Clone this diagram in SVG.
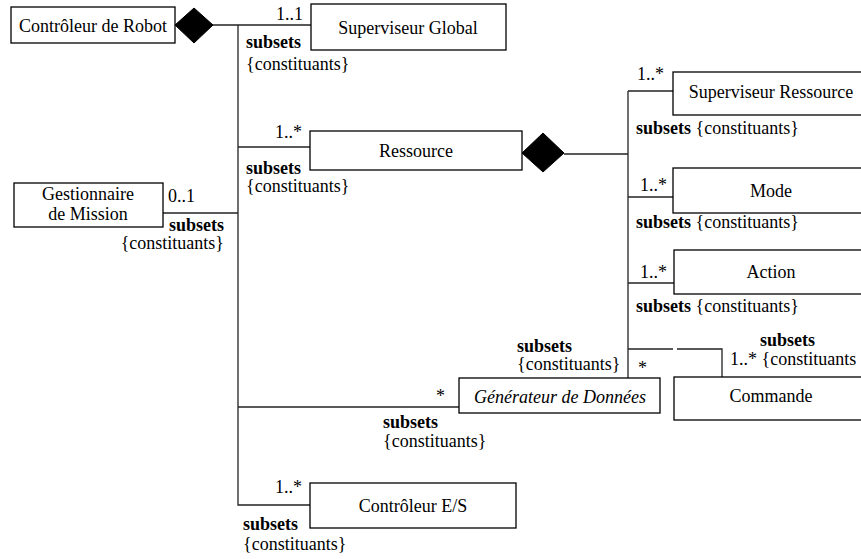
<svg xmlns="http://www.w3.org/2000/svg" width="861" height="559" viewBox="0 0 861 559">
  <style>
    text { font-family: "Liberation Serif", "Times New Roman", serif; font-size: 18px; fill: #000; }
    .b { font-weight: bold; }
    .c { text-anchor: middle; }
    .r { text-anchor: end; }
    .i { font-style: italic; }
    .box { fill: #fff; stroke: #000; stroke-width: 1.3; }
    .ln { fill: none; stroke: #222; stroke-width: 1.3; }
    .dia { fill: #000; stroke: #000; stroke-width: 1; }
  </style>
  <rect width="861" height="559" fill="#fff"/>

  <!-- connectors -->
  <g id="connectors">
    <!-- Contrôleur de Robot composition -->
    <polygon class="dia" points="175,25 194,8 213,25 194,43"/>
    <polyline class="ln" points="213,25 311,25"/>
    <polyline class="ln" points="238,25 238,505 310,505"/>
    <polyline class="ln" points="238,147 310,147"/>
    <polyline class="ln" points="163,213 238,213"/>
    <polyline class="ln" points="238,407 459,407"/>
    <!-- Ressource composition -->
    <polygon class="dia" points="522,153 543,133 564,153 543,172"/>
    <polyline class="ln" points="564,154 628,154"/>
    <polyline class="ln" points="628,91 628,378"/>
    <polyline class="ln" points="628,91 673,91"/>
    <polyline class="ln" points="628,197 673,197"/>
    <polyline class="ln" points="628,283 674,283"/>
    <polyline class="ln" points="628,349 673,349"/>
    <polyline class="ln" points="677,349 722,349 722,377"/>
  </g>

  <!-- connector labels -->
  <g id="labels">
    <text class="r" x="303" y="20">1..1</text>
    <text class="b" x="246" y="48">subsets</text>
    <text x="246" y="70">{constituants}</text>

    <text class="r" x="302" y="138">1..*</text>
    <text class="b" x="246" y="174">subsets</text>
    <text x="246" y="192">{constituants}</text>

    <text x="168" y="202">0..1</text>
    <text class="b r" x="224" y="231">subsets</text>
    <text class="r" x="224" y="249">{constituants}</text>

    <text x="637" y="80">1..*</text>
    <text x="636" y="134"><tspan class="b">subsets</tspan> {constituants}</text>

    <text x="640" y="191">1..*</text>
    <text x="636" y="228"><tspan class="b">subsets</tspan> {constituants}</text>

    <text x="640" y="278">1..*</text>
    <text x="636" y="312"><tspan class="b">subsets</tspan> {constituants}</text>

    <text class="b" x="517" y="352">subsets</text>
    <text x="517" y="370">{constituants}</text>
    <text x="638" y="374">*</text>

    <text class="b" x="760" y="346">subsets</text>
    <text x="730" y="365">1..* {constituants</text>

    <text x="436" y="402">*</text>
    <text class="b" x="383" y="428">subsets</text>
    <text x="383" y="447">{constituants}</text>

    <text class="r" x="302" y="493">1..*</text>
    <text class="b" x="243" y="530">subsets</text>
    <text x="243" y="550">{constituants}</text>
  </g>

  <!-- classes -->
  <g id="controleur-robot">
    <rect class="box" x="11" y="7" width="164" height="36"/>
    <text class="c" x="93" y="32">Contrôleur de Robot</text>
  </g>
  <g id="superviseur-global">
    <rect class="box" x="311" y="4" width="195" height="46"/>
    <text class="c" x="408" y="34">Superviseur Global</text>
  </g>
  <g id="gestionnaire-mission">
    <rect class="box" x="14" y="183" width="149" height="44"/>
    <text class="c" x="88" y="200">Gestionnaire</text>
    <text class="c" x="88" y="220">de Mission</text>
  </g>
  <g id="ressource">
    <rect class="box" x="310" y="131" width="212" height="39"/>
    <text class="c" x="416" y="157">Ressource</text>
  </g>
  <g id="superviseur-ressource">
    <rect class="box" x="673" y="72" width="200" height="43"/>
    <text class="c" x="771" y="98">Superviseur Ressource</text>
  </g>
  <g id="mode">
    <rect class="box" x="673" y="168" width="200" height="45"/>
    <text class="c" x="771" y="197">Mode</text>
  </g>
  <g id="action">
    <rect class="box" x="674" y="250" width="200" height="44"/>
    <text class="c" x="771" y="278">Action</text>
  </g>
  <g id="generateur-donnees">
    <rect class="box" x="459" y="378" width="201" height="35"/>
    <text class="c i" x="560" y="403">Générateur de Données</text>
  </g>
  <g id="commande">
    <rect class="box" x="674" y="377" width="200" height="43"/>
    <text class="c" x="771" y="402">Commande</text>
  </g>
  <g id="controleur-es">
    <rect class="box" x="310" y="483" width="206" height="45"/>
    <text class="c" x="413" y="512">Contrôleur E/S</text>
  </g>
</svg>
